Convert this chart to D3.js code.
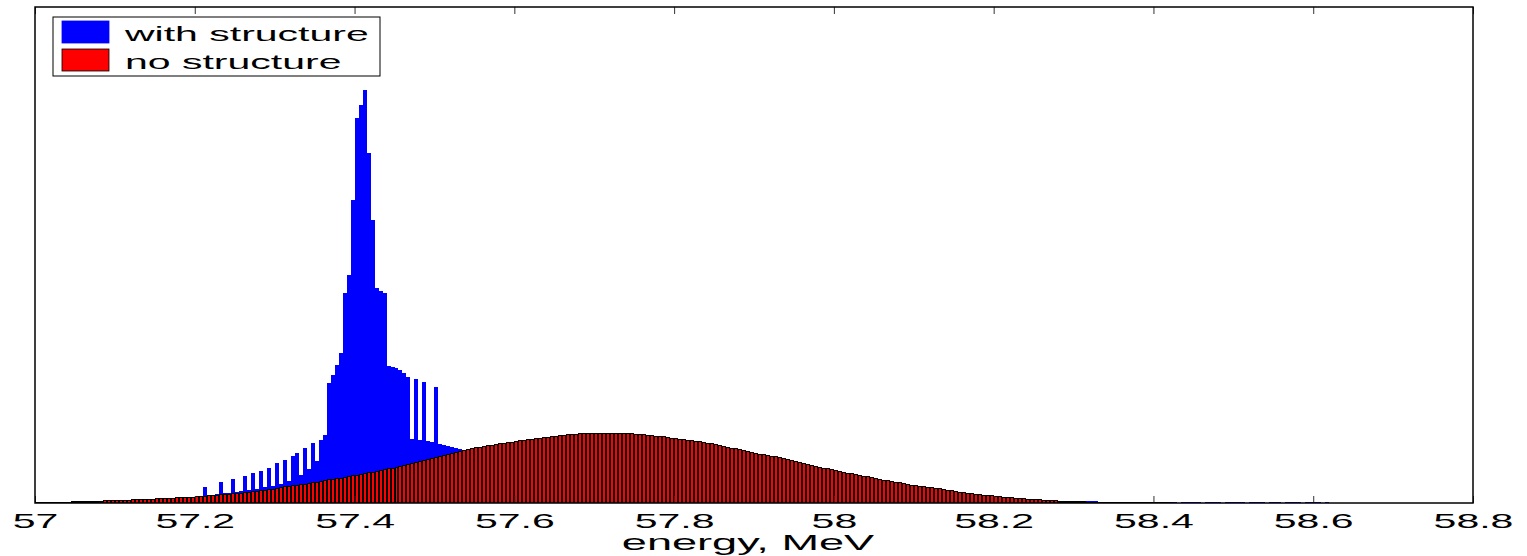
<!DOCTYPE html>
<html>
<head>
<meta charset="utf-8">
<script src="https://cdn.jsdelivr.net/npm/d3@7"></script>
<style>
  body { margin: 0; background: #fff; }
  text { font-family: "Liberation Sans", Arial, sans-serif; }
</style>
</head>
<body>
<div id="chart"></div>
<script>
// histogram bins, MeV
var binStart = 57.0;
var binWidth = 0.005;

// counts per bin (arbitrary units)
var withStructure = [
  1,1,1,1,1,1,1,1,1,1,
  1,1,2,1,2,2,2,2,2,2,
  2,3,2,3,3,3,3,3,3,4,
  4,4,4,4,5,5,5,5,6,6,
  7,7,16,8,8,9,21,10,10,24,
  11,12,27,13,30,14,32,16,35,17,
  40,19,43,22,47,50,28,55,34,60,
  42,63,68,120,128,138,150,210,228,303,
  385,398,413,350,283,215,212,210,137,136,
  135,133,130,126,64,124,63,121,62,61,
  116,59,58,57,56,55,54,53,51,50,
  49,48,47,46,46,45,45,44,44,43,
  42,41,41,40,39,38,38,37,36,36,
  35,34,34,33,33,32,32,31,31,30,
  30,29,29,29,28,28,27,27,26,26,
  25,25,24,24,23,23,22,22,22,21,
  21,21,20,20,20,19,19,19,18,18,
  18,17,17,17,16,16,16,15,15,15,
  14,14,14,14,13,13,13,13,12,12,
  12,12,11,11,11,11,10,10,10,10,
  10,10,9,9,9,9,9,9,8,8,
  8,8,8,8,7,7,7,7,7,7,
  6,6,6,6,6,6,6,5,5,5,
  5,5,5,4,4,4,4,4,4,4,
  4,3,3,3,3,3,3,3,3,3,
  3,3,3,2,2,2,2,2,2,2,
  2,2,2,2,2,2,1,1,1,1,
  1,1,1,1,0,1,1,1,1,1,
  1,0,1,1,1,1,0,1,1,1,
  1,1,0,1,1,1,1,0,1,1,
  1,1,1,0,1,1,1,1,0,1,
  1,1,0,1,1,1,1,0,1,1,
  1,1,0,1
];

var noStructure = [
  1,1,1,1,1,1,1,1,1,2,
  2,2,2,2,2,2,2,3,3,3,
  3,3,3,3,4,4,4,4,4,4,
  5,5,5,5,5,6,6,6,6,6,
  7,7,7,8,8,8,9,9,9,10,
  10,10,11,11,12,12,13,13,14,14,
  15,16,17,17,18,18,19,19,20,21,
  21,22,23,24,24,25,25,26,27,28,
  28,29,30,31,31,32,33,34,35,35,
  36,37,38,39,40,41,42,43,44,45,
  46,47,48,49,50,51,52,53,54,55,
  56,56,57,58,58,59,60,60,61,61,
  62,63,63,64,64,65,65,66,66,67,
  67,68,68,69,69,69,70,70,70,70,
  70,70,70,70,70,70,70,70,70,70,
  69,69,69,68,68,67,67,67,66,65,
  65,64,64,63,63,62,62,61,60,60,
  59,58,57,56,55,55,54,53,52,51,
  50,49,49,48,47,47,46,45,44,43,
  42,41,40,39,38,37,36,35,35,34,
  33,32,31,30,30,29,28,27,27,26,
  25,24,23,23,22,21,21,20,19,18,
  18,17,17,16,16,15,15,14,13,13,
  12,11,11,10,10,9,9,8,8,8,
  7,7,6,6,6,5,5,5,4,4,
  4,4,3,3,3,3,2,2,2,2,
  2,2,2,1,1,1,1,1,1,1,
  1,1,1,1,1,1,1,1,1,1,
  1,1,1,1,1
];

var xTicks = [57, 57.2, 57.4, 57.6, 57.8, 58, 58.2, 58.4, 58.6, 58.8];
var xTickLabels = ["57", "57.2", "57.4", "57.6", "57.8", "58", "58.2", "58.4", "58.6", "58.8"];
var seriesNames = ["with structure", "no structure"];
var seriesColors = ["#0000ff", "#ff0000"];
var xLabel = "energy, MeV";

var W = 1527, H = 556;
var margin = { top: 7, right: 54, bottom: 53, left: 35 };
var width = W - margin.left - margin.right,
    height = H - margin.top - margin.bottom;
var stretch = 2.05; // text in the original figure is stretched sideways

var svg = d3.select("#chart")
    .append("svg")
    .attr("width", W)
    .attr("height", H);

var g = svg.append("g")
    .attr("transform", "translate(" + margin.left + "," + margin.top + ")");

var x = d3.scaleLinear().domain([57, 58.8]).range([0, width]);
var y = d3.scaleLinear().domain([0, 496]).range([height, 0]);

function binData(arr) {
    return arr.map(function(v, i) {
        var e0 = binStart + i * binWidth, e1 = binStart + (i + 1) * binWidth;
        var x0 = Math.round(x(e0)), x1 = Math.round(x(e1));
        return { x0: x0, w: x1 - x0, top: Math.round(y(v)), v: v };
    }).filter(function(d) { return d.v > 0; });
}

// blue first, red drawn on top of it
g.append("g")
    .attr("shape-rendering", "crispEdges")
    .selectAll("rect")
    .data(binData(withStructure))
    .enter()
    .append("rect")
    .attr("x", function(d) { return d.x0; })
    .attr("width", function(d) { return d.w; })
    .attr("y", function(d) { return d.top; })
    .attr("height", function(d) { return y(0) - d.top; })
    .attr("fill", seriesColors[0]);

// red bars: black outline + red face, like the matlab bar edges
var redBins = binData(noStructure);
var redG = g.append("g").attr("shape-rendering", "crispEdges");
redG.selectAll("rect.edge")
    .data(redBins)
    .enter()
    .append("rect")
    .attr("class", "edge")
    .attr("x", function(d) { return d.x0; })
    .attr("width", function(d) { return d.w; })
    .attr("y", function(d) { return d.top; })
    .attr("height", function(d) { return y(0) - d.top; })
    .attr("fill", "#000");
redG.selectAll("rect.face")
    .data(redBins.filter(function(d) { return y(0) - d.top > 2; }))
    .enter()
    .append("rect")
    .attr("class", "face")
    .attr("x", function(d) { return d.x0 + 1; })
    .attr("width", function(d) { return d.w - 2; })
    .attr("y", function(d) { return d.top + 1; })
    .attr("height", function(d) { return y(0) - d.top - 1; })
    .attr("fill", seriesColors[1]);

// axes: inward ticks top and bottom, no y ticks
var xAxis = d3.axisBottom(x)
    .tickValues(xTicks)
    .tickSize(-7)
    .tickPadding(11)
    .tickFormat(function(d, i) { return xTickLabels[i]; });

var gx = g.append("g")
    .attr("transform", "translate(0," + height + ")")
    .call(xAxis);
gx.select(".domain").remove();
gx.selectAll(".tick line").attr("stroke", "#333");
gx.selectAll(".tick text")
    .attr("font-size", "20px")
    .attr("font-family", "Liberation Sans, Arial, sans-serif")
    .attr("fill", "#000")
    .attr("transform", "scale(" + stretch + ",1)");

var gxTop = g.append("g")
    .call(d3.axisTop(x).tickValues(xTicks).tickSize(-7).tickFormat(""));
gxTop.select(".domain").remove();
gxTop.selectAll(".tick line").attr("stroke", "#333");

g.append("rect")
    .attr("width", width)
    .attr("height", height)
    .attr("fill", "none")
    .attr("stroke", "#000")
    .attr("stroke-width", 1.5);

// x label
svg.append("text")
    .attr("transform", "translate(" + (margin.left + width / 2 - 6) + ",550) scale(" + stretch + ",1)")
    .attr("text-anchor", "middle")
    .attr("font-size", "22px")
    .text(xLabel);

// legend
var legend = svg.append("g").attr("transform", "translate(53,17)");
legend.append("rect")
    .attr("width", 327)
    .attr("height", 59)
    .attr("fill", "#fff")
    .attr("stroke", "#000")
    .attr("stroke-width", 1);

seriesNames.forEach(function(name, i) {
    var row = legend.append("g").attr("transform", "translate(0," + (i * 28) + ")");
    row.append("rect")
        .attr("x", 9)
        .attr("y", 4)
        .attr("width", 47)
        .attr("height", 22)
        .attr("fill", seriesColors[i])
        .attr("stroke", i === 1 ? "#000" : seriesColors[i])
        .attr("stroke-width", 0.8);
    row.append("text")
        .attr("transform", "translate(72,24) scale(" + stretch + ",1)")
        .attr("font-size", "20px")
        .text(name);
});
</script>
</body>
</html>
